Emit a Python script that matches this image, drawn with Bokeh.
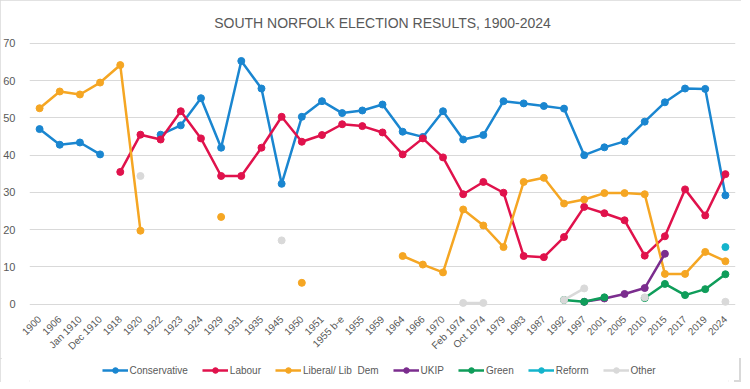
import numpy as np
from bokeh.plotting import figure
from bokeh.layouts import column
from bokeh.models import ColumnDataSource, FactorRange, Legend, LegendItem, FixedTicker, Range1d
from bokeh.embed import file_html
from bokeh.resources import INLINE
from math import pi

N = None
elections = ["1900", "1906", "Jan 1910", "Dec 1910", "1918", "1920", "1922", "1923", "1924",
             "1929", "1931", "1935", "1945", "1950", "1951", "1955 b-e", "1955", "1959",
             "1964", "1966", "1970", "Feb 1974", "Oct 1974", "1979", "1983", "1987", "1992",
             "1997", "2001", "2005", "2010", "2015", "2017", "2019", "2024"]

conservative = [47.0, 42.8, 43.4, 40.2, N, N, 45.5, 48.0, 55.3, 42.0, 65.3, 57.9, 32.3, 50.3,
                54.5, 51.3, 52.0, 53.6, 46.3, 44.9, 51.8, 44.2, 45.4, 54.5, 53.9, 53.2, 52.5,
                40.0, 42.1, 43.7, 49.0, 54.2, 57.9, 57.8, 29.2]
labour = [N, N, N, N, 35.5, 45.5, 44.2, 51.8, 44.5, 34.4, 34.4, 42.0, 50.3, 43.6, 45.4, 48.3,
          47.8, 46.1, 40.2, 44.5, 39.4, 29.5, 32.8, 29.9, 12.9, 12.6, 18.0, 26.1, 24.4, 22.5,
          13.0, 18.2, 30.8, 23.8, 34.9]
liberal = [52.6, 57.1, 56.3, 59.5, 64.2, 19.7, N, N, N, 23.4, N, N, N, 5.7, N, N, N, N,
           12.9, 10.6, 8.5, 25.4, 21.1, 15.3, 32.8, 33.9, 27.0, 28.1, 29.8, 29.8, 29.5, 8.1,
           8.1, 14.0, 11.5]
ukip = [N] * 27 + [0.6, 1.5, 2.7, 4.3, 13.5, N, N, N]
green = [N] * 26 + [1.1, 0.6, 1.8, N, 1.6, 5.4, 2.4, 4.0, 8.0]
reform = [N] * 34 + [15.3]
other = [N, N, N, N, N, 34.4, N, N, N, N, N, N, 17.1, N, N, N, N, N, N, N, N, 0.3, 0.3, N,
         N, N, 1.1, 4.2, N, N, 1.8, N, N, N, 0.6]

series = [
    ("Conservative", conservative, "#1a86d0"),
    ("Labour", labour, "#e0124c"),
    ("Liberal/ Lib  Dem", liberal, "#f5a623"),
    ("UKIP", ukip, "#7b2d8e"),
    ("Green", green, "#0f9d5a"),
    ("Reform", reform, "#14b4cc"),
    ("Other", other, "#d9d9d9"),
]

p = figure(frame_width=706, frame_height=268, x_range=FactorRange(*elections, range_padding=0),
           y_range=(-1.2, 70.8), output_backend="svg", toolbar_location=None,
           min_border_left=22, min_border_right=6, min_border_top=40, min_border_bottom=44)

p.title.text = "SOUTH NORFOLK ELECTION RESULTS, 1900-2024"
p.title.align = "center"
p.title.text_font = "Liberation Sans"
p.title.text_font_size = "14px"
p.title.text_font_style = "normal"
p.title.text_color = "#595959"
p.title.standoff = 19
p.title.offset = -9

p.outline_line_color = None
p.background_fill_color = "white"
p.border_fill_color = "white"
p.xgrid.grid_line_color = None
p.ygrid.grid_line_color = "#d9d9d9"
p.ygrid.grid_line_width = 1
p.yaxis.ticker = FixedTicker(ticks=[0, 10, 20, 30, 40, 50, 60, 70])

for ax in (p.xaxis, p.yaxis):
    ax.axis_line_color = None
    ax.major_tick_line_color = None
    ax.minor_tick_line_color = None
    ax.major_label_text_color = "#595959"
    ax.major_label_text_font = "Liberation Sans"
    ax.major_label_text_font_size = "10px"
p.yaxis.major_label_text_font_size = "11px"
p.yaxis.major_label_standoff = 8
p.xaxis.major_label_orientation = pi / 4
p.xaxis.major_label_standoff = 3

# legend strip: same sources, viewed through a y range that shows no data
lg = figure(width=734, height=24, output_backend="svg", toolbar_location=None,
            x_range=FactorRange(*elections, range_padding=0), y_range=Range1d(1000, 1001),
            x_axis_type=None, y_axis_type=None, min_border=0)
lg.outline_line_color = None
lg.xgrid.grid_line_color = None
lg.ygrid.grid_line_color = None

items = []
for name, vals, col in series:
    y = np.array([np.nan if v is None else v for v in vals], dtype=float)
    src = ColumnDataSource(dict(x=elections, y=y))
    p.line("x", "y", source=src, line_color=col, line_width=2.5)
    p.scatter("x", "y", source=src, size=7, fill_color=col, line_color=col)
    l2 = lg.line("x", "y", source=src, line_color=col, line_width=2.5)
    s2 = lg.scatter("x", "y", source=src, size=7, fill_color=col, line_color=col)
    items.append(LegendItem(label=name, renderers=[l2, s2]))

legend = Legend(items=items, orientation="horizontal", location="center",
                label_text_font="Liberation Sans", label_text_font_size="10px",
                label_text_color="#595959", glyph_width=26, glyph_height=14,
                label_standoff=2, spacing=14, padding=0, margin=0,
                background_fill_alpha=0, border_line_color=None)
lg.add_layout(legend, "center")

layout = column(p, lg, spacing=0)
layout.styles = {"outline": "2px solid #d9d9d9", "outline-offset": "-2px"}

open("out.html", "w").write(file_html(layout, INLINE))
